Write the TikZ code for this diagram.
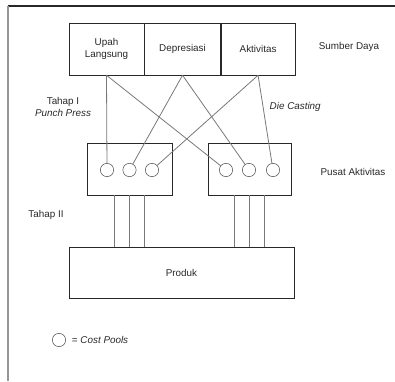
\documentclass[tikz,border=0pt]{standalone}
\usepackage{fontspec}
\setmainfont{Liberation Sans}
\usetikzlibrary{positioning,calc}
\definecolor{ink}{RGB}{40,40,40}
\definecolor{wire}{RGB}{120,120,120}
\definecolor{frame}{RGB}{150,150,150}

\begin{document}
\begin{tikzpicture}[x=0.75pt, y=-0.75pt,
    every node/.style={font=\fontsize{7.4}{8.4}\selectfont, text=ink},
    cell/.style={draw=ink, minimum height=39pt, inner sep=1pt, align=center},
    center/.style={draw=ink, minimum width=63.75pt, minimum height=39pt},
    pool/.style={draw=ink!80, circle, minimum size=10pt, inner sep=0pt},
    link/.style={wire, line width=0.6pt}]

    % Canvas
    \useasboundingbox (0,0) rectangle (395,381);
    \draw[ink, line width=1pt] (8,6) -- (395,6);
    \draw[frame, line width=1.4pt] (8,6) -- (8,381);

    % Resources
    \node[cell, minimum width=56.25pt] (upah) at (106.5,49) {Upah\\Langsung};
    \node[cell, minimum width=57pt, right=0pt of upah] (dep) {Depresiasi};
    \node[cell, minimum width=55.5pt, right=0pt of dep] (akt) {Aktivitas};
    \node (sumber) at (349,47) {Sumber Daya};

    % Activity centres
    \node[center] (punch) at (129.5,169) {};
    \node[center, minimum width=62.25pt] (die) at (249.5,169) {};
    \node (pusat) at (353,172) {Pusat Aktivitas};

    % Cost pools
    \foreach \i/\x in {1/107, 2/129.5, 3/152} {
        \node[pool] (p\i) at (\x,170) {};
    }
    \foreach \i/\x in {1/226, 2/249, 3/273} {
        \node[pool] (d\i) at (\x,170) {};
    }

    % Stage one
    \draw[link] (upah.south) -- (p1);
    \draw[link] (upah.south) -- (d1);
    \draw[link] (dep.south) -- (p2);
    \draw[link] (dep.south) -- (d2);
    \draw[link] (akt.south) -- (p3);
    \draw[link] (akt.south) -- (d3);

    \node[align=center] (tahap1) at (63,107) {Tahap I\\\itshape Punch Press};
    \node[anchor=west] (casting) at (265,107) {\itshape Die Casting};

    % Product
    \node[draw=ink, minimum width=168.75pt, minimum height=38.25pt] (produk) at (181.5,272.5) {Produk};

    % Stage two
    \foreach \i/\f in {1/0.32, 2/0.5, 3/0.68} {
        \coordinate (ps\i) at ($(punch.south west)!\f!(punch.south east)$);
        \coordinate (ds\i) at ($(die.south west)!\f!(die.south east)$);
        \draw[link] (ps\i) -- (ps\i |- produk.north);
        \draw[link] (ds\i) -- (ds\i |- produk.north);
    }
    \node (tahap2) at (46,215) {Tahap II};

    % Legend
    \node[pool] (key) at (59,340) {};
    \node[right=1pt of key] (keytext) {= \itshape Cost Pools};

\end{tikzpicture}
\end{document}
